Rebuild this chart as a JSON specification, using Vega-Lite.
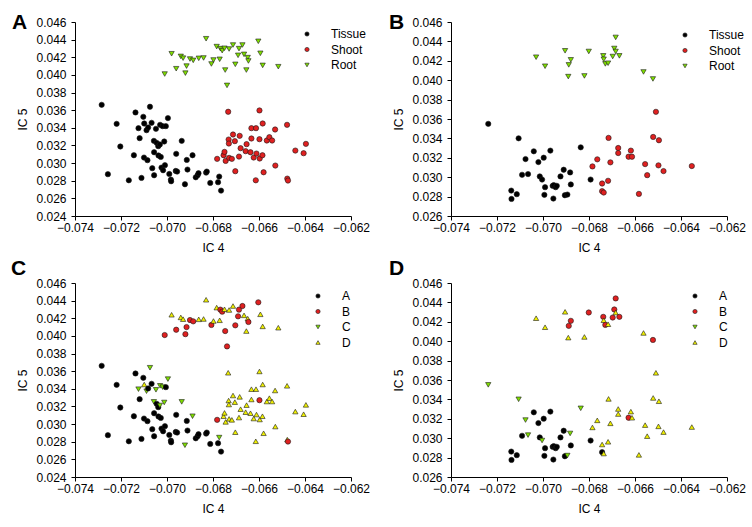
{
  "$schema": "https://vega.github.io/schema/vega-lite/v6.json",
  "padding": {"left": 10, "top": 12, "right": 5, "bottom": 5},
  "datasets": {
    "ac": [
      {"t":"Root","g":"B","x":-0.0701,"y":0.0401},
      {"t":"Root","g":"D","x":-0.0698,"y":0.0424},
      {"t":"Root","g":"B","x":-0.0696,"y":0.0407},
      {"t":"Root","g":"D","x":-0.0694,"y":0.0421},
      {"t":"Root","g":"B","x":-0.0692,"y":0.0402},
      {"t":"Root","g":"D","x":-0.0693,"y":0.0419},
      {"t":"Root","g":"B","x":-0.06915,"y":0.0410},
      {"t":"Root","g":"B","x":-0.0690,"y":0.0418},
      {"t":"Root","g":"B","x":-0.06886,"y":0.04165},
      {"t":"Root","g":"D","x":-0.06862,"y":0.04188},
      {"t":"Root","g":"D","x":-0.06841,"y":0.04192},
      {"t":"Root","g":"D","x":-0.0683,"y":0.0441},
      {"t":"Root","g":"B","x":-0.06807,"y":0.04124},
      {"t":"Root","g":"D","x":-0.06798,"y":0.04169},
      {"t":"Root","g":"D","x":-0.06784,"y":0.04321},
      {"t":"Root","g":"D","x":-0.06771,"y":0.04177},
      {"t":"Root","g":"B","x":-0.06768,"y":0.04298},
      {"t":"Root","g":"B","x":-0.0676,"y":0.04275},
      {"t":"Root","g":"D","x":-0.0675,"y":0.04302},
      {"t":"Root","g":"B","x":-0.06747,"y":0.04055},
      {"t":"Root","g":"B","x":-0.06739,"y":0.03881},
      {"t":"Root","g":"D","x":-0.0673,"y":0.04294},
      {"t":"Root","g":"D","x":-0.06713,"y":0.04339},
      {"t":"Root","g":"B","x":-0.06703,"y":0.0412},
      {"t":"Root","g":"B","x":-0.06687,"y":0.04298},
      {"t":"Root","g":"B","x":-0.06691,"y":0.04222},
      {"t":"Root","g":"B","x":-0.06672,"y":0.04339},
      {"t":"Root","g":"D","x":-0.06665,"y":0.04233},
      {"t":"Root","g":"D","x":-0.06649,"y":0.04196},
      {"t":"Root","g":"B","x":-0.06646,"y":0.04158},
      {"t":"Root","g":"D","x":-0.06655,"y":0.04055},
      {"t":"Root","g":"B","x":-0.06603,"y":0.04381},
      {"t":"Root","g":"D","x":-0.06594,"y":0.04245},
      {"t":"Root","g":"D","x":-0.06584,"y":0.04108},
      {"t":"Root","g":"D","x":-0.06516,"y":0.04093},
      {"t":"Tissue","g":"A","x":-0.07284,"y":0.03661},
      {"t":"Tissue","g":"A","x":-0.07257,"y":0.02874},
      {"t":"Tissue","g":"A","x":-0.07219,"y":0.03445},
      {"t":"Tissue","g":"A","x":-0.07203,"y":0.03188},
      {"t":"Tissue","g":"A","x":-0.07166,"y":0.02805},
      {"t":"Tissue","g":"A","x":-0.07144,"y":0.03089},
      {"t":"Tissue","g":"A","x":-0.07137,"y":0.03574},
      {"t":"Tissue","g":"C","x":-0.07124,"y":0.03396},
      {"t":"Tissue","g":"A","x":-0.07119,"y":0.03283},
      {"t":"Tissue","g":"A","x":-0.07111,"y":0.02832},
      {"t":"Tissue","g":"A","x":-0.07103,"y":0.03525},
      {"t":"Tissue","g":"D","x":-0.07099,"y":0.03449},
      {"t":"Tissue","g":"A","x":-0.071,"y":0.03063},
      {"t":"Tissue","g":"C","x":-0.07089,"y":0.03373},
      {"t":"Tissue","g":"A","x":-0.07085,"y":0.03033},
      {"t":"Tissue","g":"A","x":-0.07082,"y":0.03404},
      {"t":"Tissue","g":"C","x":-0.07074,"y":0.03639},
      {"t":"Tissue","g":"A","x":-0.07067,"y":0.03457},
      {"t":"Tissue","g":"A","x":-0.07064,"y":0.02942},
      {"t":"Tissue","g":"C","x":-0.07057,"y":0.03252},
      {"t":"Tissue","g":"A","x":-0.07056,"y":0.03123},
      {"t":"Tissue","g":"A","x":-0.07056,"y":0.02862},
      {"t":"Tissue","g":"C","x":-0.07048,"y":0.03389},
      {"t":"Tissue","g":"A","x":-0.07045,"y":0.0323},
      {"t":"Tissue","g":"A","x":-0.07038,"y":0.03192},
      {"t":"Tissue","g":"A","x":-0.07037,"y":0.03086},
      {"t":"Tissue","g":"C","x":-0.07031,"y":0.03211},
      {"t":"Tissue","g":"C","x":-0.0703,"y":0.03434},
      {"t":"Tissue","g":"A","x":-0.07027,"y":0.0307},
      {"t":"Tissue","g":"A","x":-0.07024,"y":0.02949},
      {"t":"Tissue","g":"C","x":-0.07019,"y":0.03419},
      {"t":"Tissue","g":"A","x":-0.07017,"y":0.02919},
      {"t":"Tissue","g":"C","x":-0.07012,"y":0.03245},
      {"t":"Tissue","g":"A","x":-0.07009,"y":0.02976},
      {"t":"Tissue","g":"A","x":-0.07005,"y":0.03419},
      {"t":"Tissue","g":"C","x":-0.06996,"y":0.0351},
      {"t":"Tissue","g":"A","x":-0.0699,"y":0.02877},
      {"t":"Tissue","g":"A","x":-0.06983,"y":0.02813},
      {"t":"Tissue","g":"A","x":-0.06982,"y":0.02794},
      {"t":"Tissue","g":"A","x":-0.0696,"y":0.03105},
      {"t":"Tissue","g":"A","x":-0.06962,"y":0.02911},
      {"t":"Tissue","g":"A","x":-0.06956,"y":0.02904},
      {"t":"Tissue","g":"C","x":-0.06936,"y":0.03252},
      {"t":"Tissue","g":"C","x":-0.06922,"y":0.0276},
      {"t":"Tissue","g":"A","x":-0.06914,"y":0.03036},
      {"t":"Tissue","g":"A","x":-0.06911,"y":0.02927},
      {"t":"Tissue","g":"C","x":-0.06889,"y":0.03089},
      {"t":"Tissue","g":"A","x":-0.06875,"y":0.02839},
      {"t":"Tissue","g":"A","x":-0.06867,"y":0.02862},
      {"t":"Tissue","g":"A","x":-0.06863,"y":0.02885},
      {"t":"Tissue","g":"A","x":-0.0683,"y":0.02892},
      {"t":"Tissue","g":"A","x":-0.06827,"y":0.02904},
      {"t":"Tissue","g":"A","x":-0.06812,"y":0.02775},
      {"t":"Tissue","g":"A","x":-0.06778,"y":0.02783},
      {"t":"Tissue","g":"C","x":-0.06773,"y":0.02847},
      {"t":"Tissue","g":"A","x":-0.06765,"y":0.02688},
      {"t":"Shoot","g":"B","x":-0.06782,"y":0.03048},
      {"t":"Shoot","g":"D","x":-0.06754,"y":0.03089},
      {"t":"Shoot","g":"D","x":-0.0675,"y":0.03127},
      {"t":"Shoot","g":"D","x":-0.06745,"y":0.03025},
      {"t":"Shoot","g":"D","x":-0.06734,"y":0.03582},
      {"t":"Shoot","g":"D","x":-0.06732,"y":0.03267},
      {"t":"Shoot","g":"D","x":-0.06731,"y":0.03222},
      {"t":"Shoot","g":"D","x":-0.0673,"y":0.03059},
      {"t":"Shoot","g":"D","x":-0.06718,"y":0.03048},
      {"t":"Shoot","g":"D","x":-0.06713,"y":0.03324},
      {"t":"Shoot","g":"D","x":-0.06705,"y":0.03249},
      {"t":"Shoot","g":"D","x":-0.06703,"y":0.02908},
      {"t":"Shoot","g":"D","x":-0.06684,"y":0.03309},
      {"t":"Shoot","g":"D","x":-0.0668,"y":0.03169},
      {"t":"Shoot","g":"D","x":-0.06687,"y":0.03074},
      {"t":"Shoot","g":"D","x":-0.06658,"y":0.03135},
      {"t":"Shoot","g":"D","x":-0.06654,"y":0.03215},
      {"t":"Shoot","g":"D","x":-0.06637,"y":0.03123},
      {"t":"Shoot","g":"D","x":-0.06633,"y":0.03396},
      {"t":"Shoot","g":"D","x":-0.06633,"y":0.03279},
      {"t":"Shoot","g":"D","x":-0.06623,"y":0.03063},
      {"t":"Shoot","g":"D","x":-0.06613,"y":0.03396},
      {"t":"Shoot","g":"D","x":-0.06611,"y":0.03108},
      {"t":"Shoot","g":"D","x":-0.06614,"y":0.02805},
      {"t":"Shoot","g":"D","x":-0.06598,"y":0.03597},
      {"t":"Shoot","g":"B","x":-0.06598,"y":0.03271},
      {"t":"Shoot","g":"D","x":-0.06597,"y":0.03052},
      {"t":"Shoot","g":"D","x":-0.06585,"y":0.03089},
      {"t":"Shoot","g":"D","x":-0.06584,"y":0.03449},
      {"t":"Shoot","g":"D","x":-0.0658,"y":0.02896},
      {"t":"Shoot","g":"D","x":-0.06566,"y":0.03256},
      {"t":"Shoot","g":"D","x":-0.06555,"y":0.03294},
      {"t":"Shoot","g":"D","x":-0.06543,"y":0.03256},
      {"t":"Shoot","g":"D","x":-0.0653,"y":0.03381},
      {"t":"Shoot","g":"D","x":-0.06529,"y":0.02972},
      {"t":"Shoot","g":"D","x":-0.06478,"y":0.03434},
      {"t":"Shoot","g":"D","x":-0.06477,"y":0.02824},
      {"t":"Shoot","g":"B","x":-0.06474,"y":0.02802},
      {"t":"Shoot","g":"D","x":-0.06442,"y":0.03142},
      {"t":"Shoot","g":"D","x":-0.06406,"y":0.03112},
      {"t":"Shoot","g":"D","x":-0.06396,"y":0.03218}
    ],
    "bd": [
      {"t":"Root","g":"D","x":-0.0703,"y":0.04237},
      {"t":"Root","g":"D","x":-0.06991,"y":0.04144},
      {"t":"Root","g":"D","x":-0.06904,"y":0.04303},
      {"t":"Root","g":"B","x":-0.06879,"y":0.0421},
      {"t":"Root","g":"B","x":-0.06888,"y":0.04158},
      {"t":"Root","g":"D","x":-0.0689,"y":0.04037},
      {"t":"Root","g":"D","x":-0.0682,"y":0.04044},
      {"t":"Root","g":"B","x":-0.06801,"y":0.04296},
      {"t":"Root","g":"B","x":-0.06738,"y":0.04251},
      {"t":"Root","g":"D","x":-0.06736,"y":0.04216},
      {"t":"Root","g":"B","x":-0.06729,"y":0.04168},
      {"t":"Root","g":"D","x":-0.06717,"y":0.04175},
      {"t":"Root","g":"B","x":-0.06697,"y":0.04244},
      {"t":"Root","g":"B","x":-0.0669,"y":0.04327},
      {"t":"Root","g":"D","x":-0.06684,"y":0.04296},
      {"t":"Root","g":"B","x":-0.06684,"y":0.04441},
      {"t":"Root","g":"B","x":-0.06668,"y":0.04251},
      {"t":"Root","g":"D","x":-0.06563,"y":0.04085},
      {"t":"Root","g":"B","x":-0.06522,"y":0.04013},
      {"t":"Tissue","g":"C","x":-0.07238,"y":0.0355},
      {"t":"Tissue","g":"A","x":-0.07138,"y":0.02862},
      {"t":"Tissue","g":"A","x":-0.07137,"y":0.02776},
      {"t":"Tissue","g":"A","x":-0.07114,"y":0.02825},
      {"t":"Tissue","g":"C","x":-0.07106,"y":0.03401},
      {"t":"Tissue","g":"A","x":-0.07091,"y":0.03025},
      {"t":"Tissue","g":"C","x":-0.07076,"y":0.03187},
      {"t":"Tissue","g":"C","x":-0.07065,"y":0.03032},
      {"t":"Tissue","g":"A","x":-0.0704,"y":0.03267},
      {"t":"Tissue","g":"A","x":-0.0702,"y":0.03156},
      {"t":"Tissue","g":"A","x":-0.07014,"y":0.03008},
      {"t":"Tissue","g":"C","x":-0.07004,"y":0.02976},
      {"t":"Tissue","g":"A","x":-0.06997,"y":0.03201},
      {"t":"Tissue","g":"A","x":-0.06991,"y":0.02897},
      {"t":"Tissue","g":"A","x":-0.06994,"y":0.02818},
      {"t":"Tissue","g":"A","x":-0.06968,"y":0.03274},
      {"t":"Tissue","g":"A","x":-0.06958,"y":0.02911},
      {"t":"Tissue","g":"A","x":-0.06953,"y":0.02918},
      {"t":"Tissue","g":"A","x":-0.06955,"y":0.0278},
      {"t":"Tissue","g":"A","x":-0.06945,"y":0.02897},
      {"t":"Tissue","g":"A","x":-0.0694,"y":0.02911},
      {"t":"Tissue","g":"A","x":-0.06924,"y":0.03008},
      {"t":"Tissue","g":"A","x":-0.0691,"y":0.03077},
      {"t":"Tissue","g":"A","x":-0.06905,"y":0.02814},
      {"t":"Tissue","g":"C","x":-0.06894,"y":0.02821},
      {"t":"Tissue","g":"C","x":-0.06882,"y":0.03049},
      {"t":"Tissue","g":"A","x":-0.06879,"y":0.02925},
      {"t":"Tissue","g":"C","x":-0.06836,"y":0.03308},
      {"t":"Tissue","g":"A","x":-0.06793,"y":0.02976},
      {"t":"Shoot","g":"D","x":-0.06785,"y":0.03111},
      {"t":"Shoot","g":"D","x":-0.06764,"y":0.03184},
      {"t":"Shoot","g":"D","x":-0.06743,"y":0.02935},
      {"t":"Shoot","g":"A","x":-0.06743,"y":0.02856},
      {"t":"Shoot","g":"D","x":-0.06736,"y":0.02842},
      {"t":"Shoot","g":"D","x":-0.06717,"y":0.02963},
      {"t":"Shoot","g":"D","x":-0.06715,"y":0.03405},
      {"t":"Shoot","g":"D","x":-0.06707,"y":0.03153},
      {"t":"Shoot","g":"D","x":-0.06673,"y":0.03301},
      {"t":"Shoot","g":"D","x":-0.06673,"y":0.03249},
      {"t":"Shoot","g":"B","x":-0.06628,"y":0.03211},
      {"t":"Shoot","g":"D","x":-0.06618,"y":0.03274},
      {"t":"Shoot","g":"D","x":-0.06613,"y":0.03211},
      {"t":"Shoot","g":"D","x":-0.06583,"y":0.02828},
      {"t":"Shoot","g":"D","x":-0.06556,"y":0.03135},
      {"t":"Shoot","g":"D","x":-0.06547,"y":0.03021},
      {"t":"Shoot","g":"D","x":-0.06521,"y":0.03415},
      {"t":"Shoot","g":"D","x":-0.06509,"y":0.03674},
      {"t":"Shoot","g":"D","x":-0.06496,"y":0.03381},
      {"t":"Shoot","g":"D","x":-0.06498,"y":0.03122},
      {"t":"Shoot","g":"D","x":-0.06476,"y":0.03063},
      {"t":"Shoot","g":"D","x":-0.06353,"y":0.03115}
    ]
  },
  "columns": 2,
  "concat": [
    {
      "width": 276, "height": 194,
      "data": {"name": "ac"},
      "title": {"text": "A", "dx": -5, "dy": 21},
      "mark": {"type": "point", "filled": true, "size": 28, "stroke": "#1a1a1a", "strokeWidth": 0.6, "opacity": 1},
      "encoding": {
        "x": {"field": "x", "type": "quantitative", "scale": {"domain": [-0.074, -0.062], "nice": false, "zero": false}, "axis": {"title": "IC 4", "values": [-0.074, -0.072, -0.07, -0.068, -0.066, -0.064, -0.062], "format": ".3f"}},
        "y": {"field": "y", "type": "quantitative", "scale": {"domain": [0.024, 0.046], "nice": false, "zero": false}, "axis": {"title": "IC 5", "values": [0.024, 0.026, 0.028, 0.03, 0.032, 0.034, 0.036, 0.038, 0.04, 0.042, 0.044, 0.046], "format": ".3f"}},
        "color": {"field": "t", "type": "nominal", "scale": {"domain": ["Tissue", "Shoot", "Root"], "range": ["#000000", "#e02020", "#80e000"]}, "legend": {"title": null, "orient": "none", "legendX": 226, "legendY": 6}},
        "shape": {"field": "t", "type": "nominal", "scale": {"domain": ["Tissue", "Shoot", "Root"], "range": ["circle", "circle", "triangle-down"]}}
      }
    },
    {
      "width": 276, "height": 194,
      "data": {"name": "bd"},
      "title": {"text": "B", "dx": -4, "dy": 21},
      "mark": {"type": "point", "filled": true, "size": 28, "stroke": "#1a1a1a", "strokeWidth": 0.6, "opacity": 1},
      "encoding": {
        "x": {"field": "x", "type": "quantitative", "scale": {"domain": [-0.074, -0.062], "nice": false, "zero": false}, "axis": {"title": "IC 4", "values": [-0.074, -0.072, -0.07, -0.068, -0.066, -0.064, -0.062], "format": ".3f"}},
        "y": {"field": "y", "type": "quantitative", "scale": {"domain": [0.026, 0.046], "nice": false, "zero": false}, "axis": {"title": "IC 5", "values": [0.026, 0.028, 0.03, 0.032, 0.034, 0.036, 0.038, 0.04, 0.042, 0.044, 0.046], "format": ".3f"}},
        "color": {"field": "t", "type": "nominal", "scale": {"domain": ["Tissue", "Shoot", "Root"], "range": ["#000000", "#e02020", "#80e000"]}, "legend": {"title": null, "orient": "none", "legendX": 228, "legendY": 7}},
        "shape": {"field": "t", "type": "nominal", "scale": {"domain": ["Tissue", "Shoot", "Root"], "range": ["circle", "circle", "triangle-down"]}}
      }
    },
    {
      "width": 276, "height": 194,
      "data": {"name": "ac"},
      "title": {"text": "C", "dx": -6, "dy": 5.5},
      "mark": {"type": "point", "filled": true, "size": 28, "stroke": "#1a1a1a", "strokeWidth": 0.6, "opacity": 1},
      "encoding": {
        "x": {"field": "x", "type": "quantitative", "scale": {"domain": [-0.074, -0.062], "nice": false, "zero": false}, "axis": {"title": "IC 4", "values": [-0.074, -0.072, -0.07, -0.068, -0.066, -0.064, -0.062], "format": ".3f"}},
        "y": {"field": "y", "type": "quantitative", "scale": {"domain": [0.024, 0.046], "nice": false, "zero": false}, "axis": {"title": "IC 5", "values": [0.024, 0.026, 0.028, 0.03, 0.032, 0.034, 0.036, 0.038, 0.04, 0.042, 0.044, 0.046], "format": ".3f"}},
        "color": {"field": "g", "type": "nominal", "scale": {"domain": ["A", "B", "C", "D"], "range": ["#000000", "#e02020", "#80e000", "#f0f000"]}, "legend": {"title": null, "orient": "none", "legendX": 237, "legendY": 7}},
        "shape": {"field": "g", "type": "nominal", "scale": {"domain": ["A", "B", "C", "D"], "range": ["circle", "circle", "triangle-down", "triangle-up"]}}
      }
    },
    {
      "width": 276, "height": 194,
      "data": {"name": "bd"},
      "title": {"text": "D", "dx": -4, "dy": 5.5},
      "mark": {"type": "point", "filled": true, "size": 28, "stroke": "#1a1a1a", "strokeWidth": 0.6, "opacity": 1},
      "encoding": {
        "x": {"field": "x", "type": "quantitative", "scale": {"domain": [-0.074, -0.062], "nice": false, "zero": false}, "axis": {"title": "IC 4", "values": [-0.074, -0.072, -0.07, -0.068, -0.066, -0.064, -0.062], "format": ".3f"}},
        "y": {"field": "y", "type": "quantitative", "scale": {"domain": [0.026, 0.046], "nice": false, "zero": false}, "axis": {"title": "IC 5", "values": [0.026, 0.028, 0.03, 0.032, 0.034, 0.036, 0.038, 0.04, 0.042, 0.044, 0.046], "format": ".3f"}},
        "color": {"field": "g", "type": "nominal", "scale": {"domain": ["A", "B", "C", "D"], "range": ["#000000", "#e02020", "#80e000", "#f0f000"]}, "legend": {"title": null, "orient": "none", "legendX": 238, "legendY": 7}},
        "shape": {"field": "g", "type": "nominal", "scale": {"domain": ["A", "B", "C", "D"], "range": ["circle", "circle", "triangle-down", "triangle-up"]}}
      }
    }
  ],
  "spacing": {"row": 67, "column": 100},
  "bounds": "flush",
  "resolve": {"scale": {"color": "independent", "shape": "independent", "x": "independent", "y": "independent"}, "legend": {"color": "independent", "shape": "independent"}},
  "config": {
    "font": "Liberation Sans",
    "background": "#ffffff",
    "view": {"stroke": null},
    "axis": {"grid": false, "domainColor": "#000000", "tickColor": "#000000", "labelColor": "#000000", "titleColor": "#000000", "labelFontSize": 12, "titleFontSize": 12, "titleFontWeight": "normal", "tickSize": 4, "labelFlush": false, "labelOverlap": false, "labelBound": false, "labelFont": "Liberation Sans", "titleFont": "Liberation Sans"},
    "axisY": {"labelPadding": 5, "titlePadding": 6},
    "axisX": {"labelPadding": 2, "titlePadding": 9},
    "legend": {"labelFontSize": 12, "labelColor": "#000000", "labelFont": "Liberation Sans", "symbolSize": 18, "labelOffset": 18, "rowPadding": 3.5, "padding": 0, "symbolStrokeWidth": 0.6},
    "title": {"fontSize": 21, "fontWeight": "bold", "anchor": "start", "frame": "bounds", "color": "#000000", "offset": 0, "baseline": "alphabetic", "font": "Liberation Sans"}
  }
}
